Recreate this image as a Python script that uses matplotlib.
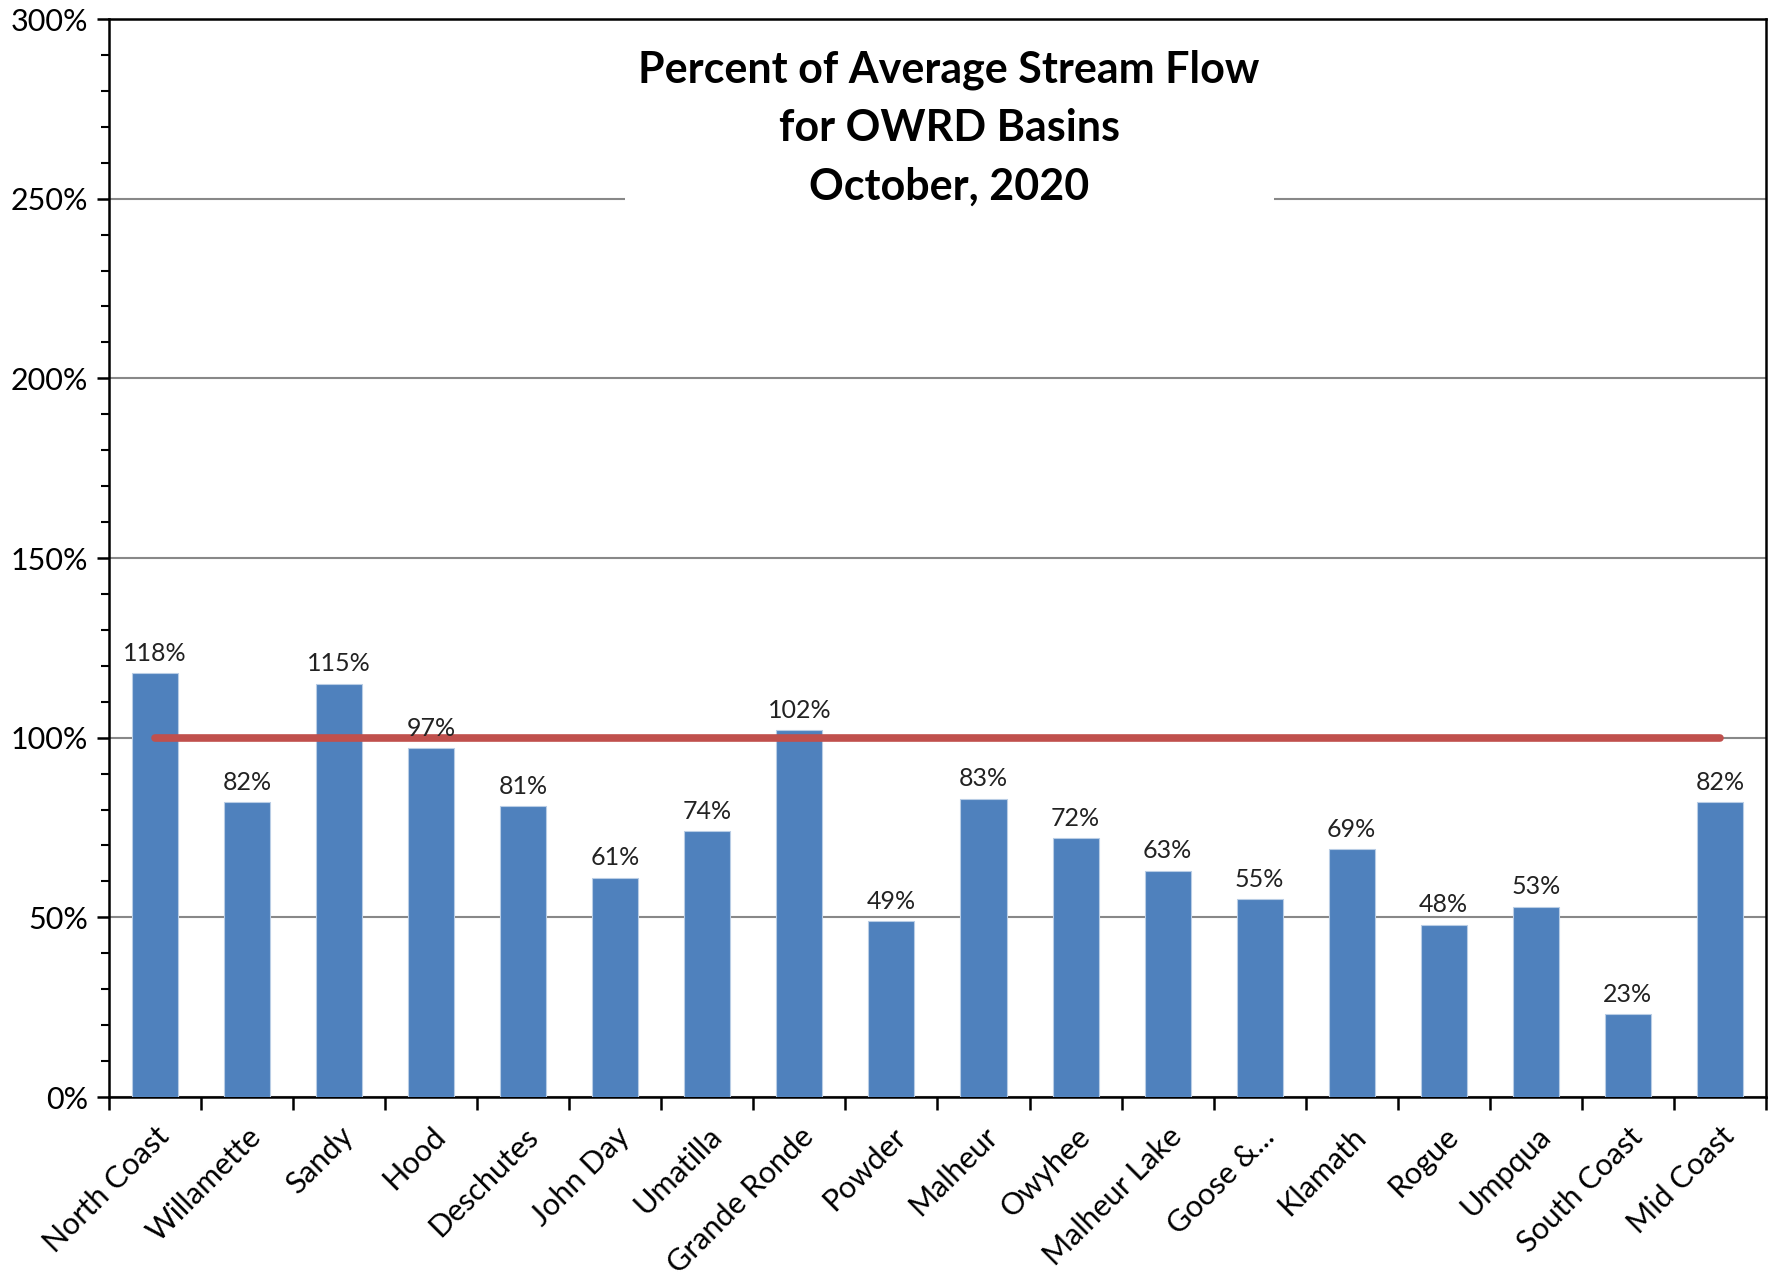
import matplotlib.pyplot as plt
from matplotlib.ticker import MultipleLocator, PercentFormatter

basins = ["North Coast", "Willamette", "Sandy", "Hood", "Deschutes", "John Day",
          "Umatilla", "Grande Ronde", "Powder", "Malheur", "Owyhee", "Malheur Lake",
          "Goose &...", "Klamath", "Rogue", "Umpqua", "South Coast", "Mid Coast"]
pct_avg = [118, 82, 115, 97, 81, 61, 74, 102, 49, 83, 72, 63, 55, 69, 48, 53, 23, 82]
average_line = 100

plt.rcParams['font.family'] = ['Lato', 'DejaVu Sans']

fig = plt.figure(figsize=(17.77, 12.85), dpi=100)
ax = fig.add_axes([0.0613, 0.1463, 0.9325, 0.8389])

x = list(range(len(basins)))
ax.bar(x, pct_avg, width=0.5, color='#4F81BD', edgecolor='#B9CDE5', linewidth=0.8, zorder=3)
ax.plot([x[0], x[-1]], [average_line, average_line], color='#C0504D', lw=5.5,
        solid_capstyle='round', zorder=4)

for xi, v in zip(x, pct_avg):
    ax.annotate(f"{v}%", (xi, v), xytext=(0, 6), textcoords='offset points',
                ha='center', va='bottom', fontsize=18, color='#222222', zorder=5)

ax.set_xlim(-0.5, len(basins) - 0.5)
ax.set_ylim(0, 300)
ax.yaxis.set_major_locator(MultipleLocator(50))
ax.yaxis.set_minor_locator(MultipleLocator(10))
ax.yaxis.set_major_formatter(PercentFormatter(decimals=0))
ax.grid(axis='y', which='major', color='#888888', lw=1.5, zorder=0)

# category ticks at boundaries, labels at centers
ax.set_xticks([i - 0.5 for i in range(len(basins) + 1)])
ax.set_xticklabels([])
ax.set_xticks(x, minor=True)
ax.set_xticklabels(basins, minor=True, rotation=45, ha='right', rotation_mode='anchor',
                   fontsize=22)
ax.tick_params(axis='x', which='minor', length=0, pad=18)
ax.tick_params(axis='x', which='major', length=9, width=1.8, direction='out')
ax.tick_params(axis='y', which='major', length=9, width=1.8, labelsize=22, pad=6)
ax.tick_params(axis='y', which='minor', length=6, width=1.5)

for s in ax.spines.values():
    s.set_linewidth(1.8)
    s.set_color('black')

ax.text(0.507, 0.899, "Percent of Average Stream Flow\nfor OWRD Basins\nOctober, 2020",
        transform=ax.transAxes, ha='center', va='center', fontsize=31, fontweight='bold',
        linespacing=1.55, zorder=6,
        bbox=dict(facecolor='white', edgecolor='none', pad=10))

fig.savefig('out.png', dpi=100)
